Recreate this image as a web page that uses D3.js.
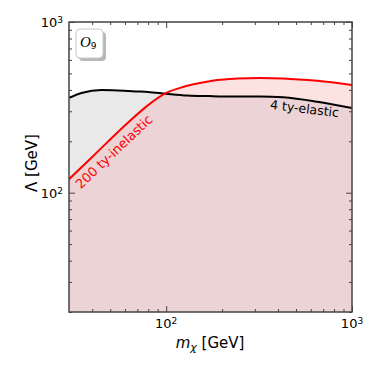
<!DOCTYPE html>
<html><head><meta charset="utf-8">
<script src="https://cdn.jsdelivr.net/npm/d3@7"></script>
<style>body{margin:0;background:#fff;} svg{display:block;font-family:"DejaVu Sans",sans-serif;}</style>
</head><body><svg id="c" width="379" height="379"></svg>
<script>
// ---- data ----
const massElastic = [30, 35, 45, 55, 70, 80, 100, 130, 170, 230, 320, 425, 650, 1000];
const lambdaElastic4ty = [359, 384, 399, 397, 392, 389, 380, 371, 368, 366, 366, 362, 341, 313];
const massInelastic = [30, 40, 62, 80, 100, 123, 135, 152, 188, 240, 320, 425, 650, 1000];
const lambdaInelastic200ty = [120, 162, 256, 326, 384, 416, 427, 439, 457, 466, 470, 467, 452, 428];
const xMajorTicks = [100, 1000];
const yMajorTicks = [100, 1000];
const xMinorTicks = [40,50,60,70,80,90,200,300,400,500,600,700,800,900];
const yMinorTicks = [20,30,40,50,60,70,80,90,200,300,400,500,600,700,800,900];
const labelElastic = "4 ty-elastic";
const labelInelastic = "200 ty-inelastic";

const svg = d3.select("#c");
const L = 69, R = 352, T = 22, B = 312;
const x = d3.scaleLog().domain([30, 1000]).range([L, R]);
const y = d3.scaleLog().domain([20, 1000]).range([B, T]);

const elastic = massElastic.map((m, i) => [m, lambdaElastic4ty[i]]);
const inelastic = massInelastic.map((m, i) => [m, lambdaInelastic200ty[i]]);

const area = d3.area().x(d => x(d[0])).y0(B).y1(d => y(d[1])).curve(d3.curveMonotoneX);
const line = d3.line().x(d => x(d[0])).y(d => y(d[1])).curve(d3.curveMonotoneX);

const defs = svg.append("defs");
defs.append("clipPath").attr("id", "plotclip").append("rect")
  .attr("x", L).attr("y", T).attr("width", R - L).attr("height", B - T);
defs.append("clipPath").attr("id", "redclip").append("path").attr("d", area(inelastic));

const g = svg.append("g").attr("clip-path", "url(#plotclip)");
g.append("path").attr("d", area(inelastic)).attr("fill", "#fde2e2");
g.append("path").attr("d", area(elastic)).attr("fill", "#e9e9e9");
g.append("g").attr("clip-path", "url(#redclip)")
  .append("path").attr("d", area(elastic)).attr("fill", "#ecd3d5");
g.append("path").attr("d", line(elastic)).attr("fill", "none").attr("stroke", "#000").attr("stroke-width", 2);
g.append("path").attr("d", line(inelastic)).attr("fill", "none").attr("stroke", "#ff0000").attr("stroke-width", 2);

// ---- axes ----
const axCol = "#444";
function styleAxis(sel) {
  sel.select(".domain").remove();
  sel.selectAll("line").attr("stroke", axCol).attr("stroke-width", 1);
}
function sup(sel, v) {
  sel.text(null);
  sel.append("tspan").text("10");
  sel.append("tspan").attr("dy", "-0.45em").attr("font-size", "9px").text(Math.round(Math.log10(v)));
}
svg.append("g").attr("transform", `translate(0,${B})`)
  .call(d3.axisBottom(x).tickValues(xMajorTicks).tickSize(-6).tickFormat(""))
  .call(styleAxis);
svg.append("g").attr("transform", `translate(0,${B})`)
  .call(d3.axisBottom(x).tickValues(xMinorTicks).tickSize(-3).tickFormat(""))
  .call(styleAxis);
svg.append("g").attr("transform", `translate(0,${T})`)
  .call(d3.axisTop(x).tickValues(xMajorTicks).tickSize(-6).tickFormat(""))
  .call(styleAxis);
svg.append("g").attr("transform", `translate(0,${T})`)
  .call(d3.axisTop(x).tickValues(xMinorTicks).tickSize(-3).tickFormat(""))
  .call(styleAxis);
svg.append("g").attr("transform", `translate(${L},0)`)
  .call(d3.axisLeft(y).tickValues(yMajorTicks).tickSize(-6).tickFormat(""))
  .call(styleAxis);
svg.append("g").attr("transform", `translate(${L},0)`)
  .call(d3.axisLeft(y).tickValues(yMinorTicks).tickSize(-3).tickFormat(""))
  .call(styleAxis);
svg.append("g").attr("transform", `translate(${R},0)`)
  .call(d3.axisRight(y).tickValues(yMajorTicks).tickSize(-6).tickFormat(""))
  .call(styleAxis);
svg.append("g").attr("transform", `translate(${R},0)`)
  .call(d3.axisRight(y).tickValues(yMinorTicks).tickSize(-3).tickFormat(""))
  .call(styleAxis);

// tick labels
xMajorTicks.forEach(v => {
  svg.append("text").attr("x", x(v)).attr("y", 328).attr("text-anchor", "middle")
    .attr("font-size", "13px").attr("fill", "#000").call(s => sup(s, v));
});
yMajorTicks.forEach(v => {
  svg.append("text").attr("x", 63).attr("y", y(v) + 5).attr("text-anchor", "end")
    .attr("font-size", "13px").attr("fill", "#000").call(s => sup(s, v));
});

// frame
svg.append("rect").attr("x", L).attr("y", T).attr("width", R - L).attr("height", B - T)
  .attr("fill", "none").attr("stroke", axCol).attr("stroke-width", 1.5);

// axis labels
const xl = svg.append("text").attr("x", 210).attr("y", 348).attr("text-anchor", "middle")
  .attr("font-size", "15px").attr("fill", "#000");
xl.append("tspan").attr("font-style", "italic").text("m");
xl.append("tspan").attr("font-style", "italic").attr("font-size", "11px").attr("dy", "3").text("χ");
xl.append("tspan").attr("dy", "-3").text(" [GeV]");

svg.append("text").attr("transform", "translate(37,163) rotate(-90)").attr("text-anchor", "middle")
  .attr("font-size", "15px").attr("fill", "#000").text("Λ [GeV]");

// curve labels
svg.append("text").attr("transform", "translate(117,155) rotate(-43.5)").attr("text-anchor", "middle")
  .attr("font-size", "13px").attr("fill", "#ff0000").text(labelInelastic);
svg.append("text").attr("transform", "translate(304,113) rotate(7)").attr("text-anchor", "middle")
  .attr("font-size", "12.5px").attr("fill", "#000").text(labelElastic);

// operator legend box
svg.append("rect").attr("x", 79).attr("y", 32).attr("width", 27).attr("height", 29).attr("rx", 4)
  .attr("fill", "#b8b8b8");
svg.append("rect").attr("x", 76).attr("y", 29).attr("width", 27).attr("height", 29).attr("rx", 4)
  .attr("fill", "#fff").attr("stroke", "#c8c8c8").attr("stroke-width", 1);
const op = svg.append("text").attr("x", 80).attr("y", 47).attr("font-size", "15px").attr("fill", "#000");
op.append("tspan").attr("font-family", "'Liberation Serif', serif").attr("font-style", "italic").text("O");
op.append("tspan").attr("font-size", "9px").attr("dy", "2").text("9");
</script></body></html>
